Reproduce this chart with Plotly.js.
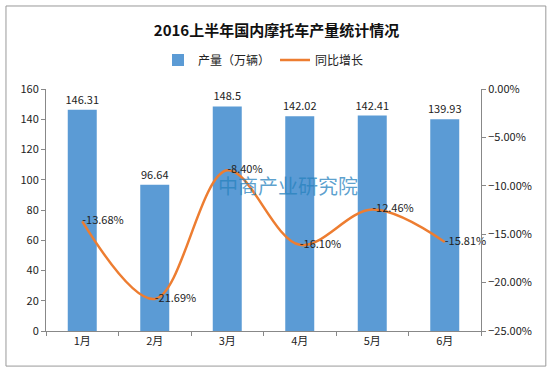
<!DOCTYPE html>
<html><head><meta charset="utf-8">
<script src="https://cdn.plot.ly/plotly-3.0.1.min.js"></script>
<style>html,body{margin:0;padding:0;background:#fff}#c{width:553px;height:371px}</style>
</head><body><div id="c"></div>
<script>
const months = ['1月','2月','3月','4月','5月','6月'];
const production = [146.31, 96.64, 148.5, 142.02, 142.41, 139.93];
const growth = [-0.1368, -0.2169, -0.0840, -0.1610, -0.1246, -0.1581];
const productionLabels = ['146.31','96.64','148.5','142.02','142.41','139.93'];
const growthLabels = ['-13.68%','-21.69%','-8.40%','-16.10%','-12.46%','-15.81%'];

const font = "'Noto Sans CJK SC', 'Noto Sans', sans-serif";
const data = [
  {type:'bar', x:months, y:production, name:'产量（万辆）', marker:{color:'#5B9BD5'},
   width:0.4, text:productionLabels, textposition:'outside', cliponaxis:false, constraintext:'none',
   textfont:{size:11, color:'#222', family:font}, hoverinfo:'none'},
  {type:'scatter', mode:'lines+text', x:months, y:growth, yaxis:'y2', name:'同比增长',
   line:{color:'#ED7D31', width:2.5, shape:'spline', smoothing:1},
   text:growthLabels, textposition:'middle right', cliponaxis:false,
   textfont:{size:11, color:'#222', family:font}, hoverinfo:'none'}
];
const layout = {
  width:553, height:371,
  margin:{l:46, r:72, t:89, b:40},
  paper_bgcolor:'#fff', plot_bgcolor:'#fff',
  font:{family:font, size:11, color:'#333'},
  title:{text:'<b>2016上半年国内摩托车产量统计情况</b>', x:0.5, xanchor:'center', y:0.918, yanchor:'middle',
         font:{size:15, color:'#111', family:font}},
  showlegend:true,
  legend:{orientation:'h', x:0.5, xanchor:'center', y:1.12, yanchor:'middle', font:{size:12,color:'#222'}, traceorder:'normal'},
  xaxis:{type:'category', showline:true, linecolor:'#888', ticks:'outside', tickson:'boundaries',
         ticklen:4, tickcolor:'#888', showgrid:false, tickfont:{size:11,color:'#222'}},
  yaxis:{range:[0,160], dtick:20, showline:true, linecolor:'#888', ticks:'outside', ticklen:4,
         tickcolor:'#888', showgrid:false, zeroline:false, tickfont:{size:11,color:'#222'}},
  yaxis2:{range:[-0.25,0], dtick:0.05, tickformat:'.2%', overlaying:'y', side:'right',
          showline:true, linecolor:'#888', ticks:'outside', ticklen:4, tickcolor:'#888',
          showgrid:false, zeroline:false, tickfont:{size:11,color:'#222'}},
  shapes:[{type:'rect', xref:'paper', yref:'paper', x0:-0.092, x1:1.149, y0:-0.145, y1:1.343,
           line:{color:'#999', width:1}, fillcolor:'rgba(0,0,0,0)'}],
  annotations:[{text:'中商产业研究院', xref:'paper', yref:'paper', x:0.556, y:0.6, showarrow:false,
                font:{size:20, color:'rgba(40,130,190,0.75)', family:font}}]
};
Plotly.newPlot('c', data, layout, {displayModeBar:false, staticPlot:true});
</script></body></html>
